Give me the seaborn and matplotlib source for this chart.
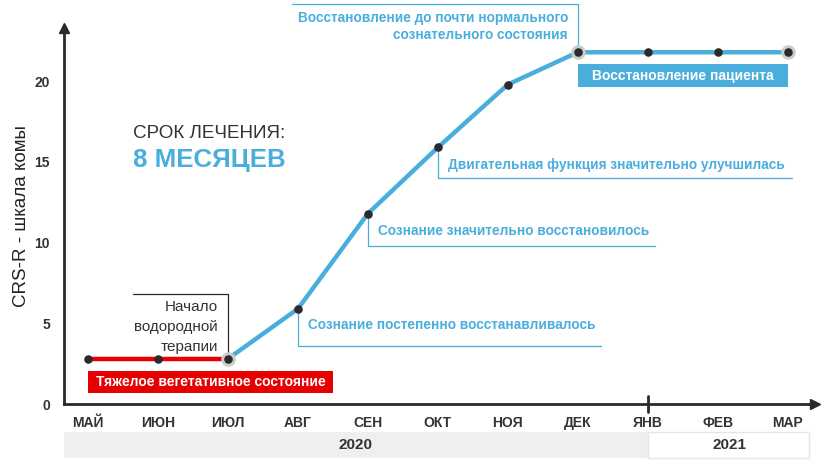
import pandas as pd
import seaborn as sns
import matplotlib.pyplot as plt
from matplotlib.patches import Rectangle
from matplotlib.transforms import blended_transform_factory

months = ['МАЙ', 'ИЮН', 'ИЮЛ', 'АВГ', 'СЕН', 'ОКТ', 'НОЯ', 'ДЕК', 'ЯНВ', 'ФЕВ', 'МАР']
scores = [2.8, 2.8, 2.8, 5.9, 11.8, 15.9, 19.8, 21.8, 21.8, 21.8, 21.8]
years = ['2020', '2021']
y_ticks = [0, 5, 10, 15, 20]

BLUE = '#4aaedd'
RED = '#e60000'
DARK = '#2a2a2a'
TXT = '#333333'

sns.set_theme(style='white')
plt.rcParams['font.family'] = ['Liberation Sans', 'DejaVu Sans']

df = pd.DataFrame({'x': range(len(months)), 'month': months, 'score': scores})
before = df.iloc[:3]
after = df.iloc[2:]

fig = plt.figure(figsize=(8.3, 4.63), dpi=100)
ax = fig.add_axes([0.0771, 0.1274, 0.9048, 0.812])

sns.lineplot(data=before, x='x', y='score', color=RED, lw=3.2, ax=ax)
sns.lineplot(data=after, x='x', y='score', color=BLUE, lw=3.2, ax=ax)
halo = df.iloc[[2, 7, 10]]
ax.scatter(halo['x'], halo['score'], s=110, color='#cccccc', zorder=3, lw=0)
sns.scatterplot(data=df, x='x', y='score', color=DARK, s=38, ax=ax, zorder=4, lw=0)

ax.set_xlim(-0.343, 10.39)
ax.set_ylim(0, 23.3)
ax.set_xticks(df['x'])
ax.set_xticklabels(months, fontsize=10, fontweight='bold', color=TXT)
ax.set_yticks(y_ticks)
ax.set_yticklabels([str(v) for v in y_ticks], fontsize=10, fontweight='bold', color=TXT)
ax.tick_params(axis='x', direction='inout', length=7, width=1.6, color=DARK, pad=5)
ax.tick_params(axis='y', length=0, pad=10)
ax.set_xlabel('')
ax.set_ylabel('CRS-R - шкала комы', fontsize=13.5, color='#222222', labelpad=3)

for s in ['top', 'right']:
    ax.spines[s].set_visible(False)
for s in ['left', 'bottom']:
    ax.spines[s].set_color(DARK)
    ax.spines[s].set_linewidth(2)
ax.plot(0, 1, marker='^', color=DARK, ms=7, transform=ax.transAxes, clip_on=False)
ax.plot(1, 0, marker='>', color=DARK, ms=7, transform=ax.transAxes, clip_on=False)
ax.plot([8, 8], [-0.5, 0.5], color=DARK, lw=2, clip_on=False)

# year band
tr = blended_transform_factory(ax.transData, ax.transAxes)
ax.add_patch(Rectangle((-0.343, -0.1436), 8.343, 0.069, transform=tr, facecolor='#efefef',
                       edgecolor='none', clip_on=False))
ax.add_patch(Rectangle((8, -0.1436), 2.31, 0.069, transform=tr, facecolor='white',
                       edgecolor='#e6e6e6', lw=1, clip_on=False))
ax.text(3.83, -0.109, years[0], transform=tr, ha='center', va='center', fontsize=11,
        fontweight='bold', color=TXT)
ax.text(9.17, -0.109, years[1], transform=tr, ha='center', va='center', fontsize=11,
        fontweight='bold', color=TXT)

# annotations
ax.plot([0.643, 2, 2], [6.81, 6.81, 2.8], color=DARK, lw=0.9, zorder=1)
ax.text(1.857, 4.77, 'Начало\nводородной\nтерапии', ha='right', va='center', fontsize=11,
        color=TXT, linespacing=1.55)
ax.add_patch(Rectangle((0, 0.68), 3.5, 1.36, facecolor=RED, edgecolor='none'))
ax.text(1.75, 1.36, 'Тяжелое вегетативное состояние', ha='center', va='center',
        fontsize=10, fontweight='bold', color='white')

notes = [
    (3, 5.9, 3.59, 7.33, 4.89, 'Сознание постепенно восстанавливалось'),
    (4, 11.8, 9.78, 8.1, 10.71, 'Сознание значительно восстановилось'),
    (5, 15.9, 14.0, 10.06, 14.8, 'Двигательная функция значительно улучшилась'),
]
for x0, y0, y1, x1, ty, label in notes:
    ax.plot([x0, x0, x1], [y0, y1, y1], color=BLUE, lw=0.9, zorder=1)
    ax.text(x0 + 0.14, ty, label, ha='left', va='center', fontsize=9.8,
            fontweight='bold', color=BLUE)

ax.plot([2.91, 7, 7], [24.77, 24.77, 21.8], color=BLUE, lw=0.9, zorder=1, clip_on=False)
ax.text(6.86, 23.4, 'Восстановление до почти нормального\nсознательного состояния',
        ha='right', va='center', fontsize=9.8, fontweight='bold', color=BLUE,
        linespacing=1.3)
ax.add_patch(Rectangle((7, 19.63), 3, 1.42, facecolor=BLUE, edgecolor='none'))
ax.text(8.5, 20.34, 'Восстановление пациента', ha='center', va='center', fontsize=10,
        fontweight='bold', color='white')

ax.text(0.643, 16.78, 'СРОК ЛЕЧЕНИЯ:', ha='left', va='center', fontsize=13.6, color=TXT)
ax.text(0.643, 15.1, '8 МЕСЯЦЕВ', ha='left', va='center', fontsize=18.6,
        fontweight='bold', color=BLUE)

fig.savefig('out.png', dpi=100)
